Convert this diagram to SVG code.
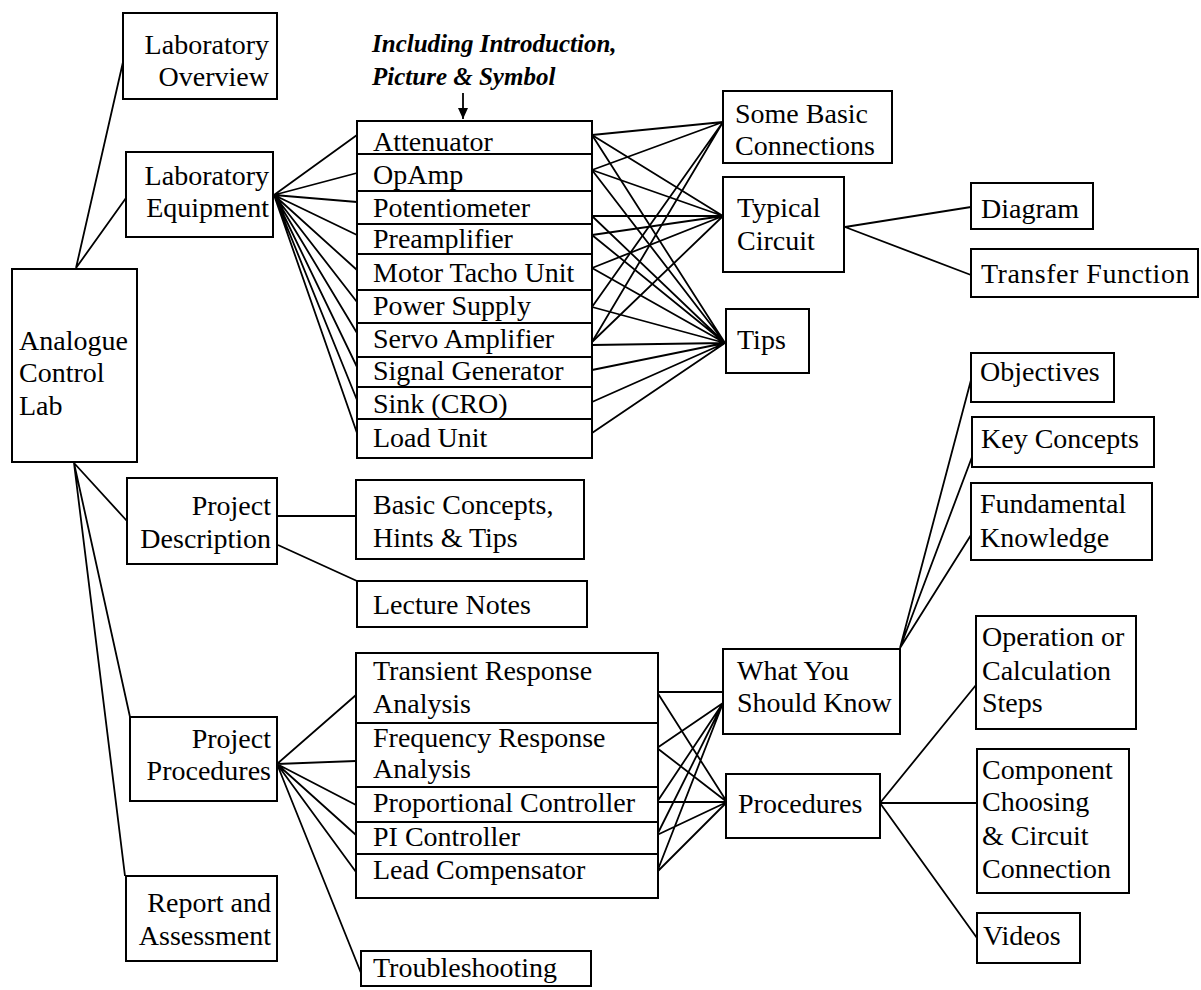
<svg xmlns="http://www.w3.org/2000/svg" width="1201" height="990" viewBox="0 0 1201 990">
<style>
  .box { fill: #fff; stroke: #000; stroke-width: 2; }
  .sep { stroke: #000; stroke-width: 2; }
  .t { font-family: "Liberation Serif", "Times New Roman", serif; font-size: 28px; fill: #000; }
  .r { text-anchor: end; }
  .lbl { font-family: "Liberation Serif", "Times New Roman", serif; font-size: 25px; font-weight: bold; font-style: italic; fill: #000; }
  .c { stroke: #000; stroke-width: 1.8; fill: none; }
</style>
<defs>
  <marker id="ah" markerWidth="12" markerHeight="12" refX="11" refY="5" orient="auto" markerUnits="userSpaceOnUse">
    <path d="M0,0 L11,5 L0,10 Z" fill="#000"/>
  </marker>
</defs>
<rect width="1201" height="990" fill="#fff"/>

<g id="connectors" class="c">
  <path d="M76,268 L123,62 M76,268 L126,198 M74,463 L127,521 M74,463 L130,717 M74,463 L125,876"/>
  <path d="M274,195 L357,135 M274,195 L357,173 M274,195 L357,202 M274,195 L357,235 M274,195 L357,270 M274,195 L357,302 M274,195 L357,333 M274,195 L357,367 M274,195 L357,400 M274,195 L357,433"/>
  <path d="M592,135 L723,122 M592,170 L723,122 M592,307 L723,122 M592,342 L723,122"/>
  <path d="M592,135 L723,216 M592,170 L723,216 M592,216 L723,216 M592,235 L723,216 M592,268 L723,216 M592,342 L723,216"/>
  <path d="M592,135 L725,343 M592,170 L725,343 M592,216 L725,343 M592,235 L725,343 M592,268 L725,343 M592,307 L725,343 M592,345 L725,343 M592,370 L725,343 M592,402 L725,343 M592,433 L725,343"/>
  <path d="M845,227 L971,207 M845,227 L971,275"/>
  <path d="M277,516 L356,516 M278,545 L357,581"/>
  <path d="M277,764 L356,695 M277,764 L356,761 M277,764 L356,805 M277,764 L356,835 M277,764 L356,872 M277,764 L361,973"/>
  <path d="M657,692 L723,692 M657,692 L727,802 M657,748 L723,703 M657,748 L727,802 M657,802 L727,802 M657,802 L723,703 M657,835 L723,703 M657,835 L727,802 M657,872 L723,703 M657,872 L727,802"/>
  <path d="M900,648 L971,380 M900,648 L972,457 M900,648 L971,535"/>
  <path d="M880,803 L976,685 M880,803 L977,803 M880,803 L977,938"/>
  <path d="M463,93 L463,119" marker-end="url(#ah)"/>
</g>

<g id="label-including">
  <text class="lbl" x="372" y="52">Including Introduction,</text>
  <text class="lbl" x="372" y="85">Picture &amp; Symbol</text>
</g>

<g id="analogue-control-lab">
  <rect class="box" x="12" y="269" width="125" height="193"/>
  <text class="t" x="19" y="350">Analogue</text>
  <text class="t" x="19" y="382">Control</text>
  <text class="t" x="19" y="415">Lab</text>
</g>

<g id="laboratory-overview">
  <rect class="box" x="123" y="13" width="154" height="86"/>
  <text class="t r" x="269" y="54">Laboratory</text>
  <text class="t r" x="269" y="86">Overview</text>
</g>

<g id="laboratory-equipment">
  <rect class="box" x="126" y="152" width="147" height="85"/>
  <text class="t r" x="269" y="185">Laboratory</text>
  <text class="t r" x="269" y="217">Equipment</text>
</g>

<g id="equipment-list">
  <rect class="box" x="357" y="121" width="235" height="337"/>
  <path class="sep" d="M357,154 H592 M357,191 H592 M357,224 H592 M357,254 H592 M357,290 H592 M357,323 H592 M357,357 H592 M357,387 H592 M357,419 H592"/>
  <text class="t" x="373" y="151">Attenuator</text>
  <text class="t" x="373" y="184">OpAmp</text>
  <text class="t" x="373" y="217">Potentiometer</text>
  <text class="t" x="373" y="248">Preamplifier</text>
  <text class="t" x="373" y="282">Motor Tacho Unit</text>
  <text class="t" x="373" y="315">Power Supply</text>
  <text class="t" x="373" y="348">Servo Amplifier</text>
  <text class="t" x="373" y="380">Signal Generator</text>
  <text class="t" x="373" y="413">Sink (CRO)</text>
  <text class="t" x="373" y="447">Load Unit</text>
</g>

<g id="some-basic-connections">
  <rect class="box" x="723" y="91" width="169" height="72"/>
  <text class="t" x="735" y="123">Some Basic</text>
  <text class="t" x="735" y="155">Connections</text>
</g>

<g id="typical-circuit">
  <rect class="box" x="723" y="177" width="121" height="95"/>
  <text class="t" x="737" y="217">Typical</text>
  <text class="t" x="737" y="250">Circuit</text>
</g>

<g id="tips">
  <rect class="box" x="726" y="309" width="83" height="64"/>
  <text class="t" x="737" y="349">Tips</text>
</g>

<g id="diagram">
  <rect class="box" x="971" y="183" width="122" height="46"/>
  <text class="t" x="981" y="218">Diagram</text>
</g>

<g id="transfer-function">
  <rect class="box" x="971" y="249" width="227" height="48"/>
  <text class="t" x="981" y="283" letter-spacing="0.5">Transfer Function</text>
</g>

<g id="objectives">
  <rect class="box" x="971" y="353" width="143" height="49"/>
  <text class="t" x="980" y="381">Objectives</text>
</g>

<g id="key-concepts">
  <rect class="box" x="972" y="417" width="182" height="50"/>
  <text class="t" x="981" y="448">Key Concepts</text>
</g>

<g id="fundamental-knowledge">
  <rect class="box" x="971" y="483" width="181" height="77"/>
  <text class="t" x="980" y="513">Fundamental</text>
  <text class="t" x="980" y="547">Knowledge</text>
</g>

<g id="project-description">
  <rect class="box" x="127" y="478" width="150" height="86"/>
  <text class="t r" x="271" y="515">Project</text>
  <text class="t r" x="271" y="548">Description</text>
</g>

<g id="basic-concepts">
  <rect class="box" x="356" y="480" width="228" height="79"/>
  <text class="t" x="373" y="514">Basic Concepts,</text>
  <text class="t" x="373" y="547">Hints &amp; Tips</text>
</g>

<g id="lecture-notes">
  <rect class="box" x="357" y="581" width="230" height="46"/>
  <text class="t" x="373" y="614">Lecture Notes</text>
</g>

<g id="project-procedures">
  <rect class="box" x="130" y="717" width="147" height="84"/>
  <text class="t r" x="271" y="748">Project</text>
  <text class="t r" x="271" y="780">Procedures</text>
</g>

<g id="report-assessment">
  <rect class="box" x="126" y="876" width="151" height="85"/>
  <text class="t r" x="271" y="912">Report and</text>
  <text class="t r" x="271" y="945">Assessment</text>
</g>

<g id="procedure-list">
  <rect class="box" x="356" y="653" width="302" height="245"/>
  <path class="sep" d="M356,723 H658 M356,787 H658 M356,822 H658 M356,854 H658"/>
  <text class="t" x="373" y="680">Transient Response</text>
  <text class="t" x="373" y="713">Analysis</text>
  <text class="t" x="373" y="747">Frequency Response</text>
  <text class="t" x="373" y="778">Analysis</text>
  <text class="t" x="373" y="812">Proportional Controller</text>
  <text class="t" x="373" y="846">PI Controller</text>
  <text class="t" x="373" y="879">Lead Compensator</text>
</g>

<g id="troubleshooting">
  <rect class="box" x="361" y="951" width="230" height="35"/>
  <text class="t" x="373" y="977">Troubleshooting</text>
</g>

<g id="what-you-should-know">
  <rect class="box" x="723" y="649" width="177" height="85"/>
  <text class="t" x="737" y="680">What You</text>
  <text class="t" x="737" y="712">Should Know</text>
</g>

<g id="procedures">
  <rect class="box" x="726" y="774" width="154" height="64"/>
  <text class="t" x="738" y="813">Procedures</text>
</g>

<g id="operation-steps">
  <rect class="box" x="976" y="616" width="160" height="113"/>
  <text class="t" x="982" y="646">Operation or</text>
  <text class="t" x="982" y="680">Calculation</text>
  <text class="t" x="982" y="712">Steps</text>
</g>

<g id="component-choosing">
  <rect class="box" x="977" y="749" width="152" height="144"/>
  <text class="t" x="982" y="779">Component</text>
  <text class="t" x="982" y="811">Choosing</text>
  <text class="t" x="982" y="845">&amp; Circuit</text>
  <text class="t" x="982" y="878">Connection</text>
</g>

<g id="videos">
  <rect class="box" x="977" y="913" width="103" height="50"/>
  <text class="t" x="983" y="945">Videos</text>
</g>
</svg>
